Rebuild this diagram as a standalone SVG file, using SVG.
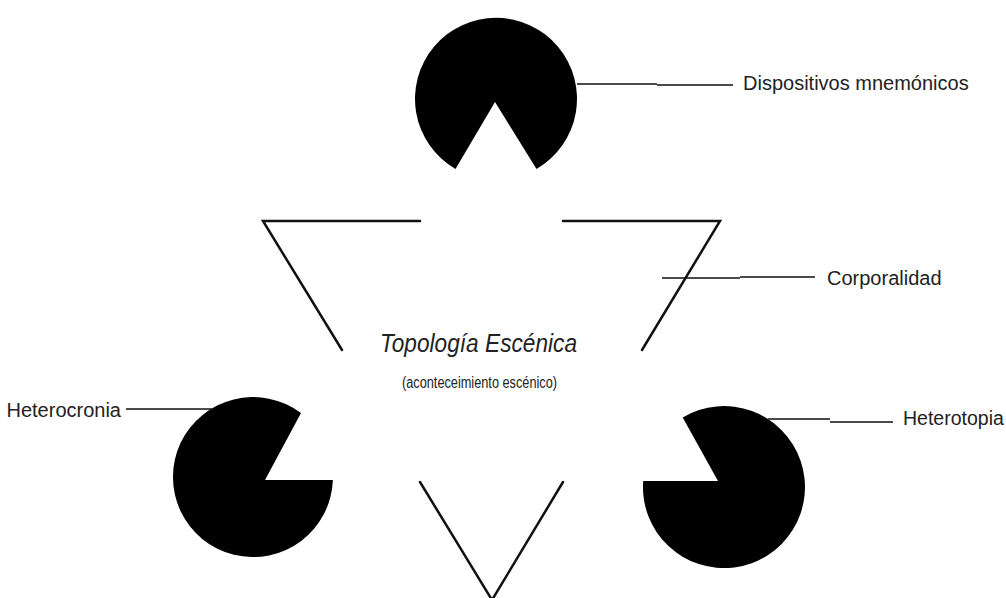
<svg xmlns="http://www.w3.org/2000/svg" width="1006" height="598" viewBox="0 0 1006 598">
<style>
.bg{fill:#ffffff}
.pac{fill:#000000}
.edge{stroke:#111111;stroke-width:2.5;fill:none;stroke-linecap:round}
.lead{stroke:#111111;stroke-width:1.6;fill:none}
.lbl{font-family:"Liberation Sans",Arial,sans-serif;font-size:20px;fill:#222222}
.title{font-family:"Liberation Sans",Arial,sans-serif;font-style:italic;font-size:25px;fill:#222222}
.sub{font-family:"Liberation Sans",Arial,sans-serif;font-size:16px;fill:#222222}
</style>
<rect class="bg" x="0" y="0" width="1006" height="598"/>
<g id="outline-triangle">
<path class="edge" d="M420 221 H263 L342 350"/>
<path class="edge" d="M563 221 H720 L642 350"/>
<path class="edge" d="M420 482 L492 600 L563 482"/>
</g>
<g id="pac-top">
<path class="pac" d="M495 102 L536.5 169 A81 81 0 1 0 455.5 169 Z"/>
</g>
<g id="pac-left">
<path class="pac" d="M265 480 L301 413.1 A80 80 0 1 0 332.9 480 Z"/>
</g>
<g id="pac-right">
<path class="pac" d="M718 481 L643.2 481 A81 81 0 1 0 682.7 417.4 Z"/>
</g>
<g id="connectors">
<path class="lead" d="M577 84 H657 M657 85 H733"/>
<path class="lead" d="M662 278 H740 M740 277 H815"/>
<path class="lead" d="M126 409 H212"/>
<path class="lead" d="M768 419 H830 M830 422 H893"/>
</g>
<g id="label-dispositivos"><text class="lbl" x="743" y="90">Dispositivos mnemónicos</text></g>
<g id="label-corporalidad"><text class="lbl" x="827" y="285">Corporalidad</text></g>
<g id="label-heterocronia"><text class="lbl" x="121" y="417" text-anchor="end">Heterocronia</text></g>
<g id="label-heterotopia"><text class="lbl" x="903" y="425" style="font-size:19.5px">Heterotopia</text></g>
<g id="center-title">
<text class="title" x="380" y="352" textLength="197" lengthAdjust="spacingAndGlyphs">Topología Escénica</text>
<text class="sub" x="402" y="388" textLength="155" lengthAdjust="spacingAndGlyphs">(aconteceimiento escénico)</text>
</g>
</svg>
